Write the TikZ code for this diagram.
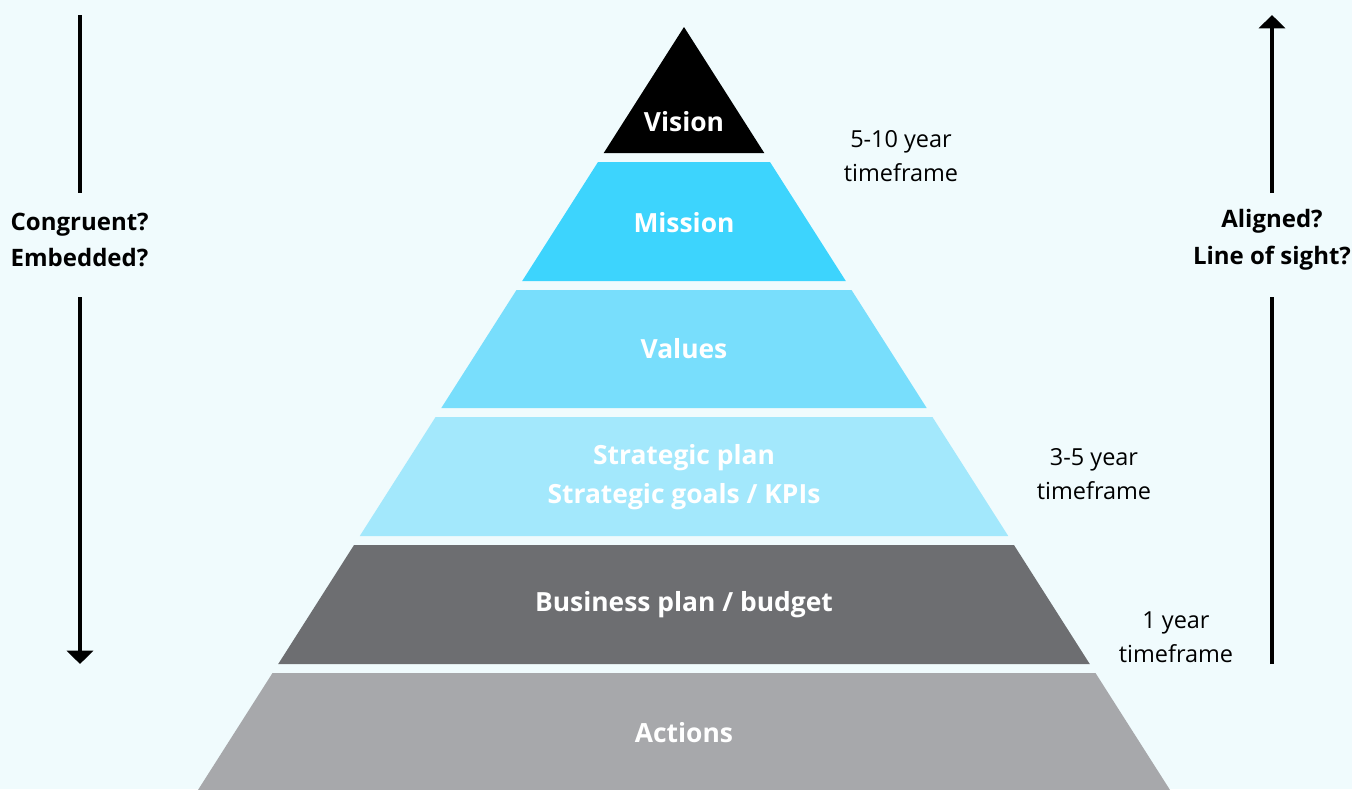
\documentclass[tikz,border=0pt]{standalone}
\usepackage{fontspec}
\setmainfont{Open Sans}
\usetikzlibrary{arrows.meta}
\definecolor{bgcol}{HTML}{F0FBFD}
\definecolor{missioncol}{HTML}{3DD4FD}
\definecolor{valuescol}{HTML}{78DEFC}
\definecolor{stratcol}{HTML}{A3E8FC}
\definecolor{busicol}{HTML}{6D6E71}
\definecolor{actcol}{HTML}{A7A8AB}
\tikzset{
	layerlabel/.style={text=white,font=\fontsize{19.8}{29.5}\selectfont\bfseries,align=center},
	sidelabel/.style={font=\fontsize{17.6}{25.5}\selectfont,align=center},
	asklabel/.style={font=\fontsize{18}{27.5}\selectfont\bfseries},
	axisline/.style={line width=3.3pt},
}
\begin{document}
\begin{tikzpicture}[x=0.75pt,y=-0.75pt]
     		\fill[bgcol] (0,0) rectangle (1352,789);
     		\useasboundingbox (0,0) rectangle (1352,789);
     		% pyramid layers: top, bottom, colour
     		\foreach \t/\b/\c in {27/153/black,162/281/missioncol,290/408/valuescol,417/536/stratcol,545/664/busicol,673/800/actcol}{
     		\fill[\c] ({684-0.637*(\t-27)},\t)--({684+0.637*(\t-27)},\t)--({684+0.637*(\b-27)},\b)--({684-0.637*(\b-27)},\b)--cycle;
     		}
     		\node[layerlabel] (vision) at (684,122) {Vision};
     		\node[layerlabel] (mission) at (684,223) {Mission};
     		\node[layerlabel] (values) at (684,349) {Values};
     		\node[layerlabel] (strategic) at (684,477) {Strategic plan\\Strategic goals / KPIs};
     		\node[layerlabel] (business) at (684,605) {Business plan / budget};
     		\node[layerlabel] (actions) at (684,733) {Actions};
     		% timeframes
     		\node[sidelabel] (tenyear) at (901,156) {5-10 year\\timeframe};
     		\node[sidelabel] (fiveyear) at (1094,474) {3-5 year\\timeframe};
     		\node[sidelabel] (oneyear) at (1176,637) {1 year\\timeframe};
     		% left arrow
     		\node[asklabel,align=left,anchor=west] (congruent) at (6,240) {Congruent?\\Embedded?};
     		\coordinate (ltop) at (80,15);
     		\coordinate (lbot) at (80,664);
     		\draw[axisline] (ltop)--(80,193);
     		\draw[axisline,-{Triangle[width=19.5pt,length=10pt]}] (80,297)--(lbot);
     		% right arrow
     		\node[asklabel,align=center] (aligned) at (1272,240) {Aligned?\\Line of sight?};
     		\coordinate (rtop) at (1272,15);
     		\coordinate (rbot) at (1272,664);
     		\draw[axisline] (rbot)--(1272,297);
     		\draw[axisline,-{Triangle[width=19.5pt,length=10pt]}] (1272,193)--(rtop);
		\end{tikzpicture}
\end{document}
